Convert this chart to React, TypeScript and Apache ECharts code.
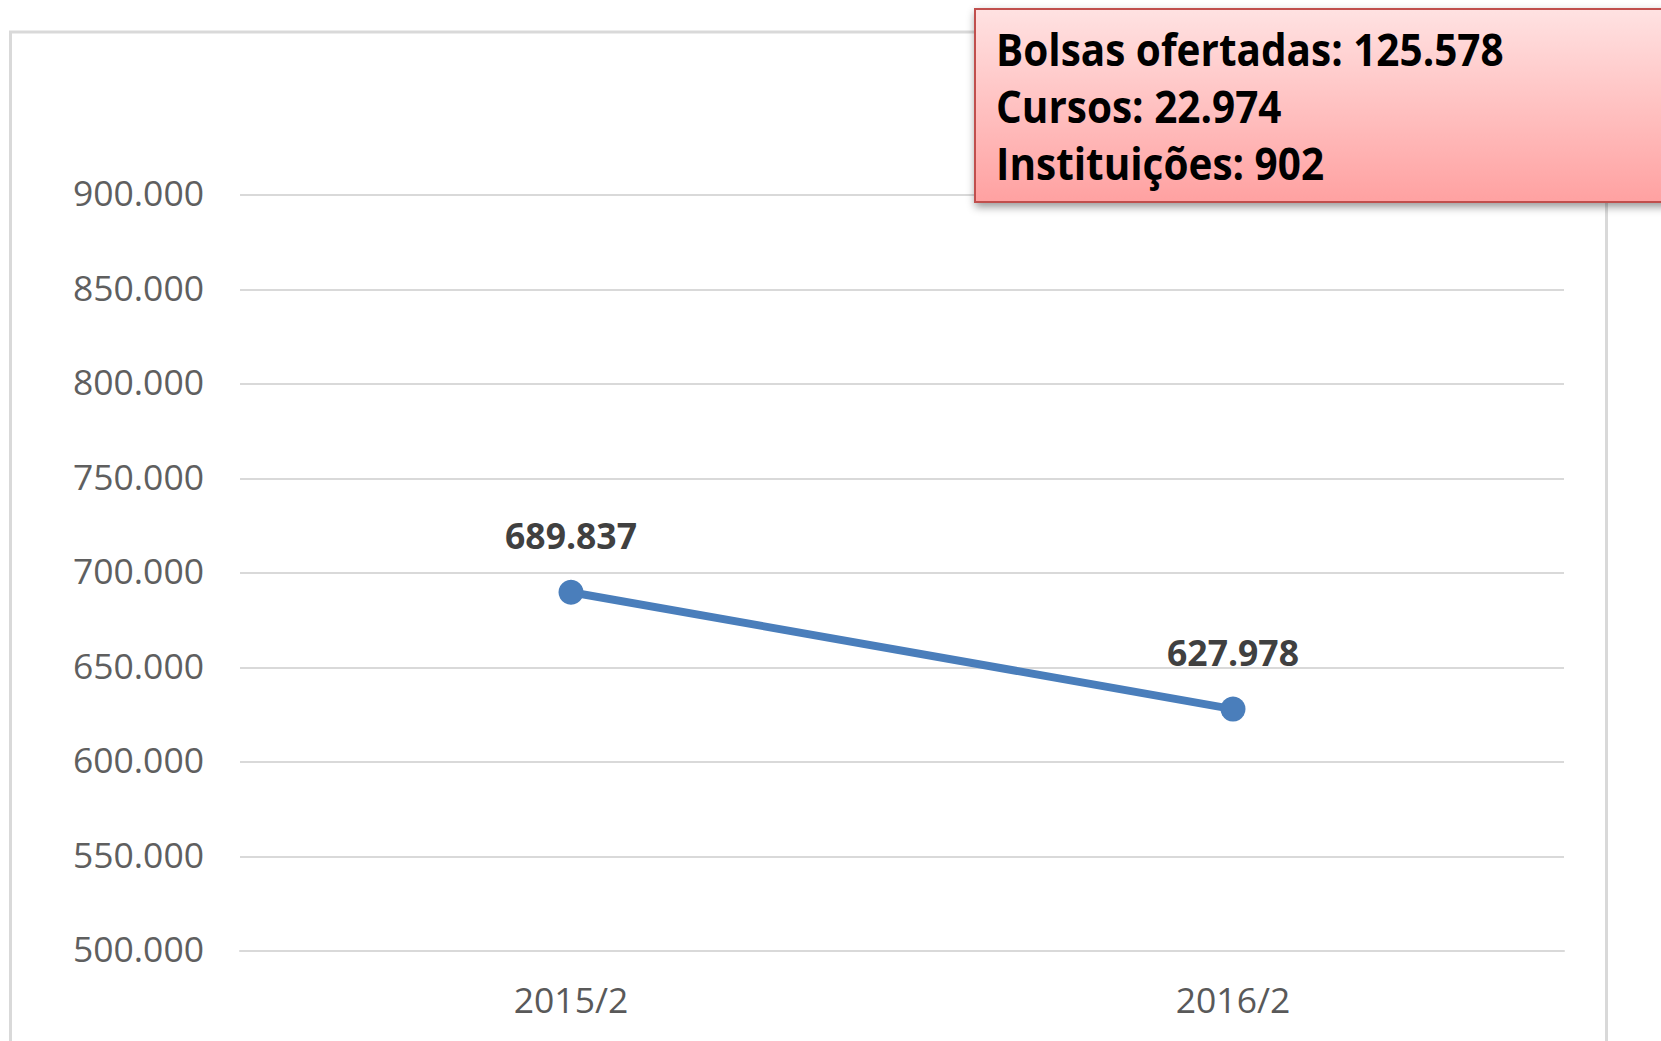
import React, { useEffect, useRef } from "react";
import * as echarts from "echarts";

const categories = ["2015/2", "2016/2"];
const values = [689837, 627978];
const yMin = 500000;
const yMax = 900000;
const yStep = 50000;
const infoLines = ["Bolsas ofertadas: 125.578", "Cursos: 22.974", "Instituições: 902"];

const fmt = (v: number) => {
  const s = Math.round(v).toString();
  return s.replace(/\B(?=(\d{3})+(?!\d))/g, ".");
};

export default function App() {
  const ref = useRef<HTMLDivElement>(null);
  useEffect(() => {
    document.body.style.margin = "0";
    document.body.style.overflow = "hidden";
    const chart = echarts.init(ref.current!, undefined, { renderer: "svg" });
    const font = "'Open Sans', 'Liberation Sans', sans-serif";
    chart.setOption({
      animation: false,
      backgroundColor: "#ffffff",
      grid: { left: 240, right: 97, top: 195, bottom: 90, containLabel: false },
      xAxis: {
        type: "category",
        data: categories,
        boundaryGap: true,
        axisLine: { show: true, lineStyle: { color: "#d9d9d9", width: 2 } },
        axisTick: { show: false },
        axisLabel: { color: "#595959", fontSize: 35.5, fontFamily: font, margin: 30 },
      },
      yAxis: {
        type: "value",
        min: yMin,
        max: yMax,
        interval: yStep,
        axisLine: { show: false },
        axisTick: { show: false },
        splitLine: { lineStyle: { color: "#d9d9d9", width: 2 } },
        axisLabel: {
          color: "#5f5f5f",
          fontSize: 35.5,
          fontFamily: font,
          margin: 36,
          verticalAlign: "bottom",
          lineHeight: 6,
          formatter: (v: number) => fmt(v),
        },
      },
      series: [
        {
          type: "line",
          data: values,
          symbol: "circle",
          symbolSize: 25,
          lineStyle: { color: "#4a7ebb", width: 8 },
          itemStyle: { color: "#4a7ebb" },
          label: {
            show: true,
            position: "top",
            distance: 27,
            color: "#404040",
            fontWeight: "bold",
            fontSize: 35.5,
            fontFamily: font,
            formatter: (p: any) => fmt(p.value),
          },
        },
      ],
      graphic: [
        {
          type: "rect",
          z: 0,
          silent: true,
          shape: { x: 10.5, y: 32, width: 1596, height: 1100 },
          style: { fill: "none", stroke: "#d9d9d9", lineWidth: 3 },
        },
        {
          type: "rect",
          z: 100,
          silent: true,
          shape: { x: 975, y: 9, width: 720, height: 193 },
          style: {
            fill: new echarts.graphic.LinearGradient(0, 0, 0, 1, [
              { offset: 0, color: "#ffe2e2" },
              { offset: 1, color: "#ffa1a1" },
            ]),
            stroke: "#c0504d",
            lineWidth: 2,
            shadowBlur: 8,
            shadowOffsetY: 4,
            shadowOffsetX: 1,
            shadowColor: "rgba(0,0,0,0.4)",
          },
        },
        ...infoLines.map((t, i) => ({
          type: "text",
          z: 101,
          silent: true,
          x: 996,
          y: 48.5 + i * 57,
          scaleY: 1.1,
          style: {
            text: t,
            fill: "#000000",
            font: `bold 40.5px ${font}`,
            textVerticalAlign: "middle",
            textAlign: "left",
          },
        })),
      ],
    });
    return () => chart.dispose();
  }, []);
  return <div ref={ref} style={{ width: 1661, height: 1041 }} />;
}
